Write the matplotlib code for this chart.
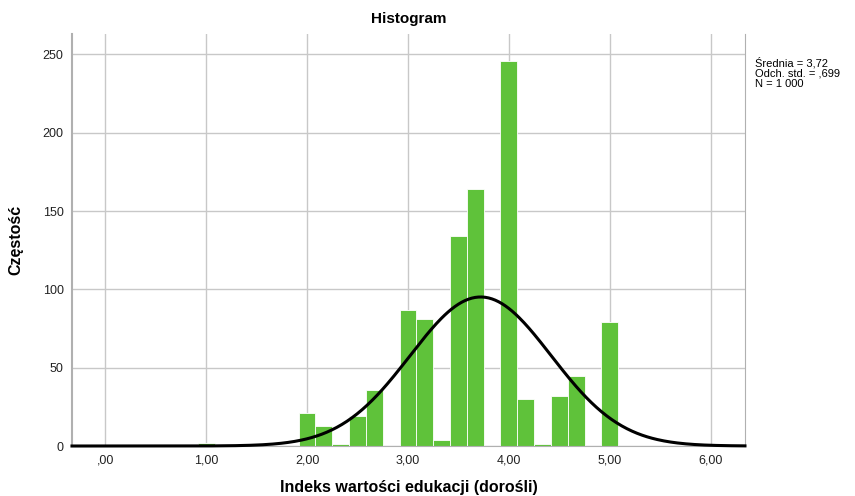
import matplotlib
matplotlib.use("Agg")
import matplotlib.pyplot as plt
import numpy as np

plt.rcParams["font.family"] = ["Liberation Sans", "DejaVu Sans"]

bin_centres = np.array([6, 12, 13, 14, 15, 16, 18, 19, 20, 21, 22, 24, 25, 26, 27, 28, 30]) / 6
counts = [2, 21, 13, 1, 19, 36, 87, 81, 4, 134, 164, 246, 30, 1, 32, 45, 79]
bin_width = 1 / 6

mean, sd, n = 3.72, 0.699, 1000
xticks = [0, 1, 2, 3, 4, 5, 6]
xtick_labels = [",00", "1,00", "2,00", "3,00", "4,00", "5,00", "6,00"]
yticks = [0, 50, 100, 150, 200, 250]
stats_lines = ["Średnia = 3,72", "Odch. std. = ,699", "N = 1 000"]

fig = plt.figure(figsize=(8.55, 4.96), dpi=100)
ax = fig.add_axes([0.0842, 0.1008, 0.7871, 0.8307])

ax.bar(bin_centres, counts, width=bin_width, color="#5fc23a",
       edgecolor="white", linewidth=0.6, zorder=2)

xs = np.linspace(-0.33, 6.34, 400)
curve = n * bin_width / (sd * np.sqrt(2 * np.pi)) * np.exp(-0.5 * ((xs - mean) / sd) ** 2)
ax.plot(xs, curve, color="black", linewidth=2.2, zorder=3, clip_on=False)

ax.set_xlim(-0.33, 6.34)
ax.set_ylim(0, 263)
ax.set_xticks(xticks)
ax.set_xticklabels(xtick_labels)
ax.set_yticks(yticks)
ax.grid(True, color="#c8c8c8", linewidth=1.0, zorder=0)
ax.set_axisbelow(True)
ax.tick_params(length=0, labelsize=9, colors="#222222", pad=6)

ax.spines["top"].set_visible(False)
for side in ["left", "right", "bottom"]:
    ax.spines[side].set_color("#b0b0b0")
ax.spines["left"].set_linewidth(1.5)

ax.set_title("Histogram", fontsize=11, fontweight="bold", pad=8)
ax.set_xlabel("Indeks wartości edukacji (dorośli)", fontsize=11.5, fontweight="bold", labelpad=10)
ax.set_ylabel("Częstość", fontsize=11.5, fontweight="bold", labelpad=14)

# stats box, one line every ~11 px
for i, line in enumerate(stats_lines):
    fig.text(0.883, 0.885 - i * 0.0222, line, fontsize=8, va="top", ha="left")

fig.savefig("out.png", dpi=100)
